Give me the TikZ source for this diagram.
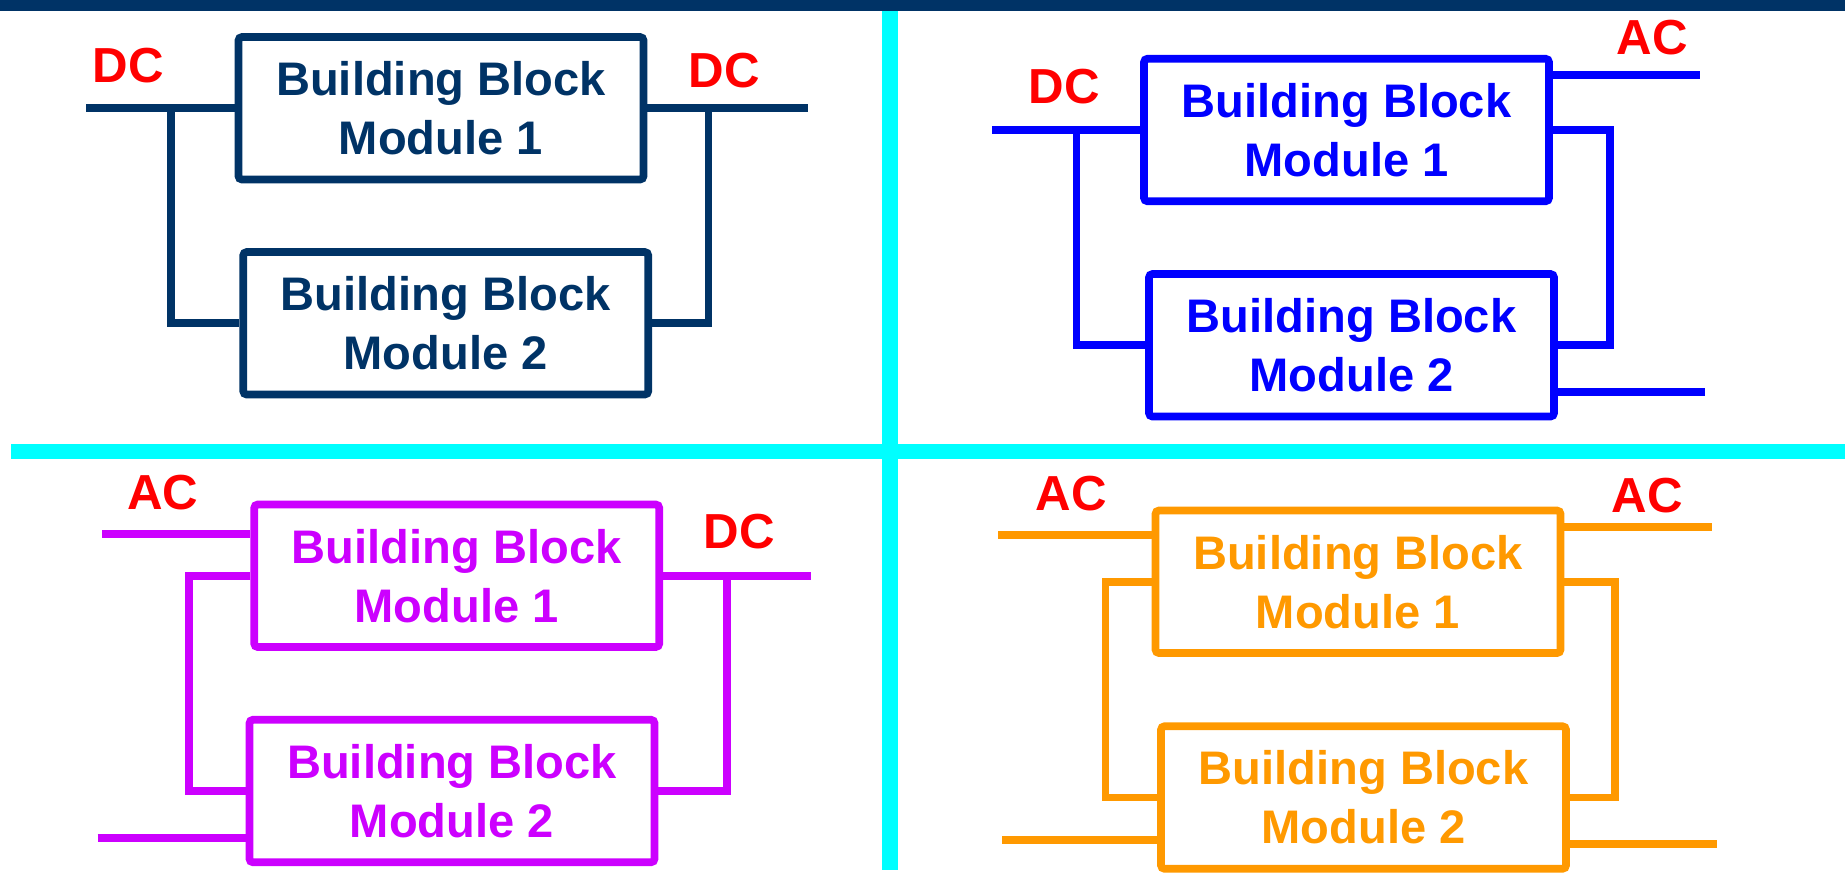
\documentclass[tikz,border=0pt]{standalone}
\usepackage{fontspec}
\setmainfont{Liberation Sans}
\usetikzlibrary{positioning}
\definecolor{navy}{HTML}{003366}
\definecolor{pureblue}{HTML}{0000FF}
\definecolor{modviolet}{HTML}{CC00FF}
\definecolor{modorange}{HTML}{FF9900}
\definecolor{divcyan}{HTML}{00FFFF}
\definecolor{labred}{HTML}{FF0000}
\tikzset{
  module/.style={draw=#1, text=#1, line width=2.2pt, rounded corners=1pt, minimum width=4.05cm, minimum height=1.425cm, align=center, inner sep=0pt, font=\fontsize{13.4}{16.8}\selectfont\bfseries},
  wire/.style={draw=#1, line width=2.2pt},
  volt/.style={text=labred, anchor=base, inner sep=0pt, font=\fontsize{14}{16}\selectfont\bfseries},
  divider/.style={draw=divcyan, line width=0.155cm}
}

\begin{document}
\begin{tikzpicture}
  \useasboundingbox (0,0) rectangle (18.45,-8.79);
  % frame
  \draw[divider] (8.90,-0.08) -- (8.90,-8.70);
  \draw[divider] (0.11,-4.515) -- (18.45,-4.515);
  \fill[navy] (0,0) rectangle (18.45,-0.11);

  % DC / DC
  \node[module=navy] (tla) at (4.41,-1.0825) {Building Block\\Module 1};
  \node[module=navy] (tlb) at (4.4575,-3.2325) {Building Block\\Module 2};
  \coordinate (tlin) at (0.86,-1.0825);
  \coordinate (tlout) at (8.08,-1.0825);
  \coordinate (tlj1) at (1.71,-1.0825);
  \coordinate (tlj2) at (7.085,-1.0825);
  \draw[wire=navy] (tlin) -- (tla.west);
  \draw[wire=navy] (tla.east) -- (tlout);
  \draw[wire=navy] (tlj1) |- (tlb.west);
  \draw[wire=navy] (tlj2) |- (tlb.east);
  \node[volt] (tldc1) at (1.285,-0.82) {DC};
  \node[volt] (tldc2) at (7.245,-0.87) {DC};

  % DC / AC
  \node[module=pureblue] (tra) at (13.465,-1.30) {Building Block\\Module 1};
  \node[module=pureblue] (trb) at (13.515,-3.4525) {Building Block\\Module 2};
  \coordinate (trin) at (9.92,-1.30);
  \coordinate (trj1) at (10.765,-1.30);
  \coordinate (trac) at (17.00,-0.75);
  \coordinate (trj2) at (16.10,-1.30);
  \coordinate (trbot) at (17.05,-3.92);
  \draw[wire=pureblue] (trin) -- (tra.west);
  \draw[wire=pureblue] (trj1) |- (trb.west);
  \draw[wire=pureblue] (trac -| tra.east) -- (trac);
  \draw[wire=pureblue] (tra.east) -- (trj2) |- (trb.east);
  \draw[wire=pureblue] (trbot -| trb.east) -- (trbot);
  \node[volt] (trdc) at (10.645,-1.03) {DC};
  \node[volt] (trac1) at (16.525,-0.54) {AC};

  % AC / DC
  \node[module=modviolet] (bla) at (4.5675,-5.7575) {Building Block\\Module 1};
  \node[module=modviolet] (blb) at (4.52,-7.91) {Building Block\\Module 2};
  \coordinate (blac) at (1.02,-5.34);
  \coordinate (blj1) at (1.89,-5.7575);
  \coordinate (blbot) at (0.976,-8.38);
  \coordinate (blout) at (8.11,-5.7575);
  \coordinate (blj2) at (7.27,-5.7575);
  \draw[wire=modviolet] (blac) -- (blac -| bla.west);
  \draw[wire=modviolet] (bla.west) -- (blj1) |- (blb.west);
  \draw[wire=modviolet] (blbot) -- (blbot -| blb.west);
  \draw[wire=modviolet] (bla.east) -- (blout);
  \draw[wire=modviolet] (blj2) |- (blb.east);
  \node[volt] (blac1) at (1.63,-5.09) {AC};
  \node[volt] (bldc) at (7.395,-5.48) {DC};

  % AC / AC
  \node[module=modorange] (bra) at (13.58,-5.8175) {Building Block\\Module 1};
  \node[module=modorange] (brb) at (13.635,-7.975) {Building Block\\Module 2};
  \coordinate (brin) at (9.98,-5.35);
  \coordinate (brj1) at (11.055,-5.8175);
  \coordinate (brbotl) at (10.02,-8.40);
  \coordinate (brout) at (17.12,-5.27);
  \coordinate (brj2) at (16.15,-5.8175);
  \coordinate (brbotr) at (17.17,-8.44);
  \draw[wire=modorange] (brin) -- (brin -| bra.west);
  \draw[wire=modorange] (bra.west) -- (brj1) |- (brb.west);
  \draw[wire=modorange] (brbotl) -- (brbotl -| brb.west);
  \draw[wire=modorange] (brout -| bra.east) -- (brout);
  \draw[wire=modorange] (bra.east) -- (brj2) |- (brb.east);
  \draw[wire=modorange] (brbotr -| brb.east) -- (brbotr);
  \node[volt] (brac1) at (10.715,-5.10) {AC};
  \node[volt] (brac2) at (16.47,-5.12) {AC};
\end{tikzpicture}
\end{document}
